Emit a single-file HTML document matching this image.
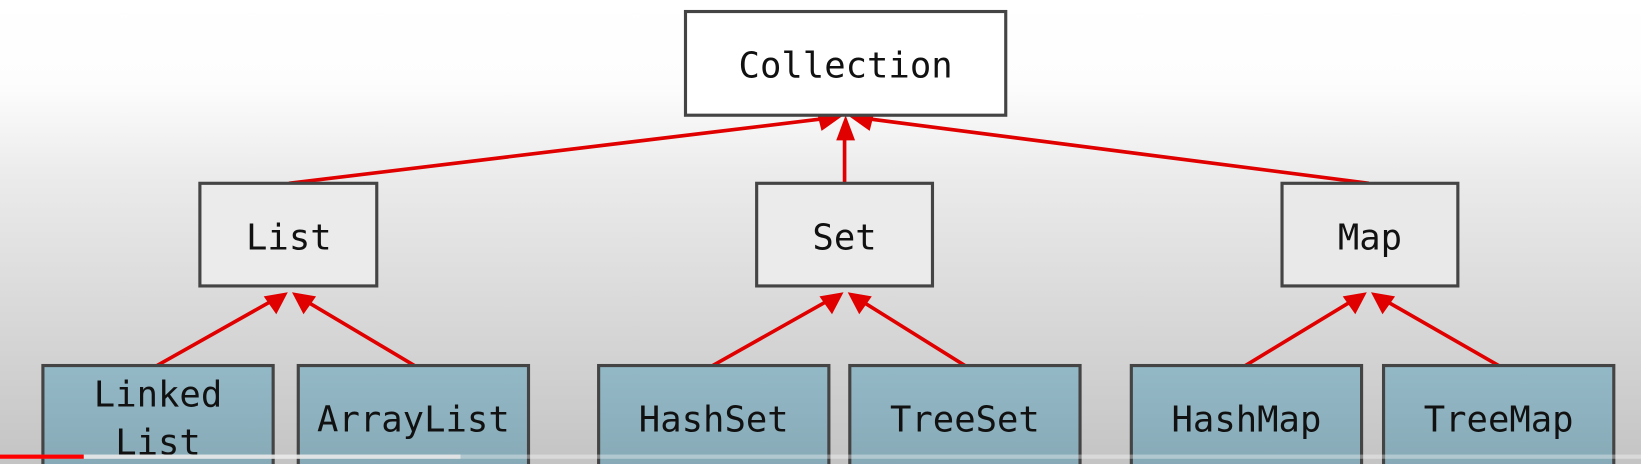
<!DOCTYPE html>
<html><head><style>
html,body{margin:0;padding:0;width:1641px;height:464px;overflow:hidden;}
svg{display:block}
text{font-family:"DejaVu Sans Mono","Liberation Mono",monospace;font-size:34px;fill:#111;text-anchor:middle}
</style></head><body>
<svg width="1641" height="464" viewBox="0 0 1568 443" preserveAspectRatio="none" xmlns="http://www.w3.org/2000/svg">
<defs>
<linearGradient id="bg" x1="0" y1="0" x2="0" y2="1">
<stop offset="0" stop-color="#ffffff"/>
<stop offset="0.18" stop-color="#fdfdfd"/>
<stop offset="0.38" stop-color="#ebebeb"/>
<stop offset="1" stop-color="#c4c4c4"/>
</linearGradient>
<linearGradient id="bx" x1="0" y1="0" x2="0" y2="1">
<stop offset="0" stop-color="#93b8c6"/>
<stop offset="1" stop-color="#86a8b5"/>
</linearGradient>
</defs>
<rect width="1568" height="443" fill="url(#bg)"/>
<g fill="none" stroke="#e00000" stroke-width="3.5">
<line x1="276" y1="175" x2="790" y2="113"/>
<line x1="1308" y1="175" x2="826" y2="113"/>
<line x1="807" y1="175" x2="807" y2="128"/>
<line x1="150" y1="349" x2="262" y2="286"/>
<line x1="396" y1="349" x2="290" y2="286"/>
<line x1="681" y1="349" x2="793" y2="286"/>
<line x1="922" y1="349" x2="821" y2="286"/>
<line x1="1190" y1="349" x2="1294" y2="286"/>
<line x1="1432" y1="349" x2="1322" y2="286"/>
</g>
<g fill="#e00000">
<polygon points="806,110 780,105 785,125"/>
<polygon points="810,110 836,105 831,125"/>
<polygon points="808,110 799,134 817,134"/>
<polygon points="275,279 252,283 264,300"/>
<polygon points="279,279 302,283 290,300"/>
<polygon points="806,279 783,283 795,300"/>
<polygon points="810,279 833,283 821,300"/>
<polygon points="1306,279 1283,283 1295,300"/>
<polygon points="1310,279 1333,283 1321,300"/>
</g>
<g stroke="#444" stroke-width="3">
<rect x="655" y="11" width="306" height="99" fill="#fff"/>
<rect x="191" y="175" width="169" height="98" fill="#ebebeb"/>
<rect x="723" y="175" width="168" height="98" fill="#ebebeb"/>
<rect x="1225" y="175" width="168" height="98" fill="#e9e9e9"/>
<rect x="41" y="349" width="220" height="110" fill="url(#bx)"/>
<rect x="285" y="349" width="220" height="110" fill="url(#bx)"/>
<rect x="572" y="349" width="220" height="110" fill="url(#bx)"/>
<rect x="812" y="349" width="220" height="110" fill="url(#bx)"/>
<rect x="1081" y="349" width="220" height="110" fill="url(#bx)"/>
<rect x="1322" y="349" width="220" height="110" fill="url(#bx)"/>
</g>
<text x="808" y="74">Collection</text>
<text x="276" y="238">List</text>
<text x="807" y="238">Set</text>
<text x="1309" y="238">Map</text>
<text x="151" y="388">Linked</text>
<text x="151" y="434">List</text>
<text x="395" y="412">ArrayList</text>
<text x="682" y="412">HashSet</text>
<text x="922" y="412">TreeSet</text>
<text x="1191" y="412">HashMap</text>
<text x="1432" y="412">TreeMap</text>
<rect x="0" y="434" width="1568" height="4" fill="#ffffff" opacity="0.35"/>
<rect x="80" y="434" width="360" height="4" fill="#e8e8e8" opacity="0.85"/>
<rect x="0" y="434" width="80" height="4" fill="#f00"/>
</svg>
</body></html>
